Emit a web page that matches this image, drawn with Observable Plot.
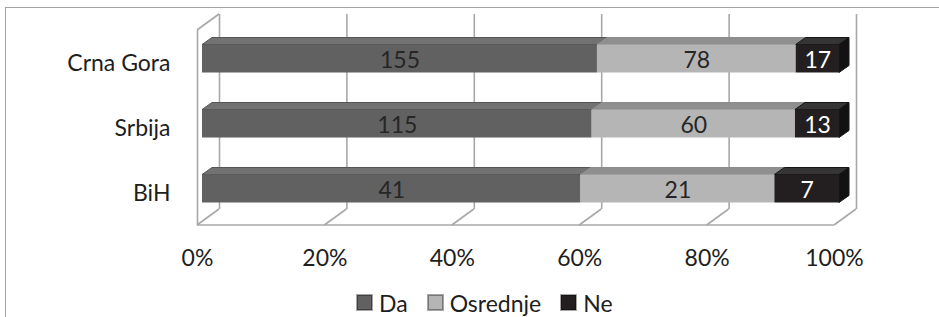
<!DOCTYPE html>
<html>
<head>
<meta charset="utf-8">
<script src="https://cdn.jsdelivr.net/npm/d3@7"></script>
<script src="https://cdn.jsdelivr.net/npm/@observablehq/plot@0.6"></script>
<style>
  html, body { margin: 0; padding: 0; background: #fff; }
  #wrap { position: relative; width: 939px; height: 317px; overflow: hidden; font-family: Lato, sans-serif; }
  #frame { position: absolute; left: 5px; top: 7px; width: 1000px; height: 400px;
           border-left: 1.6px solid #a3a3a3; border-top: 1.6px solid #a3a3a3; }
  #chart { position: absolute; left: 0; top: 0; }
  #legend { position: absolute; left: 357px; top: 286px; }
  .lg-swatch { margin-right: 20px !important; }
  .lg-swatch > svg { margin-right: 7px !important; }
  .lg-swatch svg rect { stroke: rgba(0,0,0,0.35); stroke-width: 2px; }
</style>
</head>
<body>
<div id="wrap">
  <div id="frame"></div>
  <div id="chart"></div>
  <div id="legend"></div>
</div>
<script>
// ---- data ----
const categories = ["Crna Gora", "Srbija", "BiH"];
const series = ["Da", "Osrednje", "Ne"];
const da = [155, 115, 41];
const osrednje = [78, 60, 21];
const ne = [17, 13, 7];
const xTicks = [0, 0.2, 0.4, 0.6, 0.8, 1];
const tickLabels = ["0%", "20%", "40%", "60%", "80%", "100%"];

// ---- styles ----
const frontColors = ["#616161", "#b5b5b5", "#231f20"];
const topColors = ["#727272", "#8f8f8f", "#353535"];
const sideColors = ["#4a4a4a", "#8a8a8a", "#121212"];
const edgeColors = ["#555555", "#8c8c8c", "#161616"];
const gridColor = "#a8a8a8";
const textColor = "#1e1e1e";
const WALL_DX = 22, WALL_DY = -16;   // 3D depth of the chart box
const BAR_DX = 5, BAR_DY = -4.5;     // bar front-face offset from the front plane
const BAR_DEPTH_DX = 10, BAR_DEPTH_DY = -7;

// ---- derived rows (normalized stacking) ----
const rows = [];
categories.forEach((c, i) => {
  const vals = [da[i], osrednje[i], ne[i]];
  const tot = d3.sum(vals);
  let acc = 0;
  vals.forEach((v, j) => {
    rows.push({cat: c, series: series[j], j, value: v,
      x1: acc / tot, x2: (acc + v) / tot, mid: (acc + v / 2) / tot,
      last: j === vals.length - 1});
    acc += v;
  });
});

function bandwidthOf(y) { return typeof y.bandwidth === "function" ? y.bandwidth() : y.bandwidth; }

// wireframe: floor front line, floor diagonals, left-wall top diagonal
function wireframe(index, scales, values, dimensions) {
  const x = scales.x;
  const yTop = dimensions.marginTop, yBot = dimensions.height - dimensions.marginBottom;
  const g = d3.create("svg:g").attr("stroke", gridColor).attr("stroke-width", 1.6).attr("fill", "none");
  g.append("line").attr("x1", x(xTicks[0])).attr("x2", x(xTicks[xTicks.length - 1]))
    .attr("y1", yBot).attr("y2", yBot);
  for (const t of xTicks) {
    g.append("line").attr("x1", x(t)).attr("y1", yBot).attr("x2", x(t) + WALL_DX).attr("y2", yBot + WALL_DY);
  }
  g.append("line").attr("x1", x(xTicks[0])).attr("y1", yTop).attr("x2", x(xTicks[0]) + WALL_DX).attr("y2", yTop + WALL_DY);
  return g.node();
}

// bar top and side faces
function barFaces(index, scales) {
  const x = scales.x, y = scales.y;
  const bw = bandwidthOf(y);
  const g = d3.create("svg:g");
  for (const r of rows) {
    const fx1 = x(r.x1) + BAR_DX, fx2 = x(r.x2) + BAR_DX;
    const fy1 = y(r.cat) + BAR_DY, fy2 = fy1 + bw;
    const top = [[fx1, fy1], [fx2, fy1], [fx2 + BAR_DEPTH_DX, fy1 + BAR_DEPTH_DY], [fx1 + BAR_DEPTH_DX, fy1 + BAR_DEPTH_DY]];
    g.append("polygon").attr("points", top.map(p => p.join(",")).join(" "))
      .attr("fill", topColors[r.j]).attr("stroke", edgeColors[r.j]).attr("stroke-width", 1);
    if (r.last) {
      const side = [[fx2, fy1], [fx2 + BAR_DEPTH_DX, fy1 + BAR_DEPTH_DY], [fx2 + BAR_DEPTH_DX, fy2 + BAR_DEPTH_DY], [fx2, fy2]];
      g.append("polygon").attr("points", side.map(p => p.join(",")).join(" "))
        .attr("fill", sideColors[r.j]).attr("stroke", edgeColors[r.j]).attr("stroke-width", 1);
    }
  }
  return g.node();
}

const plot = Plot.plot({
  width: 939,
  height: 280,
  marginLeft: 197,
  marginRight: 105,
  marginTop: 30,
  marginBottom: 55,
  style: {fontFamily: "Lato, sans-serif", fontSize: "23px", color: textColor, background: "transparent", overflow: "visible"},
  x: {domain: [0, 1], ticks: xTicks, tickFormat: d => tickLabels[xTicks.indexOf(d)], tickSize: 0, tickPadding: 24, label: null},
  y: {domain: categories, paddingInner: 0.57, paddingOuter: 0.285, tickSize: 0, tickPadding: 27, label: null},
  color: {domain: series, range: frontColors},
  marks: [
    Plot.ruleX(xTicks, {x: d => d, dx: WALL_DX, dy: WALL_DY, stroke: gridColor, strokeWidth: 1.6}),
    Plot.ruleX([xTicks[0]], {x: d => d, stroke: gridColor, strokeWidth: 1.6}),
    wireframe,
    barFaces,
    Plot.barX(rows, {x1: "x1", x2: "x2", y: "cat", fill: "series", dx: BAR_DX, dy: BAR_DY}),
    Plot.text(rows.filter(d => d.series !== "Ne"), {x: "mid", y: "cat", text: "value", dx: BAR_DX, dy: BAR_DY + 2, fill: "#262626"}),
    Plot.text(rows.filter(d => d.series === "Ne"), {x: "mid", y: "cat", text: "value", dx: BAR_DX, dy: BAR_DY + 2, fill: "#ffffff"})
  ]
});
document.getElementById("chart").append(plot);

const legend = Plot.legend({
  color: {domain: series, range: frontColors},
  className: "lg",
  swatchSize: 15,
  style: {fontFamily: "Lato, sans-serif", fontSize: "23px", color: textColor}
});
document.getElementById("legend").append(legend);
</script>
</body>
</html>
